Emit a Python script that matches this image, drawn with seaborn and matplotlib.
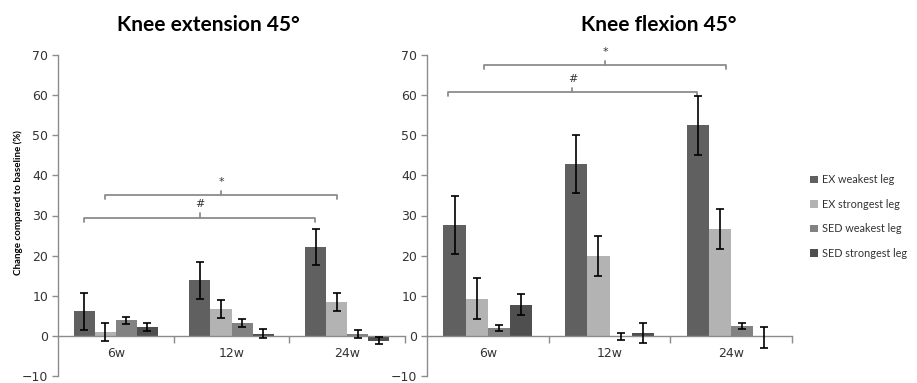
import matplotlib
matplotlib.use("Agg")
import matplotlib.pyplot as plt
from matplotlib.patches import Patch
import numpy as np
import pandas as pd
import seaborn as sns

# ---- data -----------------------------------------------------------------
weeks = ["6w", "12w", "24w"]
groups = ["EX weakest leg", "EX strongest leg", "SED weakest leg", "SED strongest leg"]
colors = ["#606060", "#b3b3b3", "#828282", "#4f4f4f"]

ext_means = {
    "EX weakest leg":    [6.1, 13.9, 22.1],
    "EX strongest leg":  [1.0, 6.7, 8.4],
    "SED weakest leg":   [3.9, 3.2, 0.5],
    "SED strongest leg": [2.2, 0.5, -1.2],
}
ext_err = {
    "EX weakest leg":    [4.6, 4.6, 4.5],
    "EX strongest leg":  [2.2, 2.3, 2.3],
    "SED weakest leg":   [0.9, 1.1, 1.0],
    "SED strongest leg": [1.1, 1.1, 0.9],
}
flex_means = {
    "EX weakest leg":    [27.6, 42.8, 52.5],
    "EX strongest leg":  [9.3, 19.8, 26.6],
    "SED weakest leg":   [1.9, -0.2, 2.4],
    "SED strongest leg": [7.8, 0.7, -0.3],
}
flex_err = {
    "EX weakest leg":    [7.3, 7.3, 7.3],
    "EX strongest leg":  [5.0, 5.0, 5.0],
    "SED weakest leg":   [0.75, 0.8, 0.8],
    "SED strongest leg": [2.6, 2.6, 2.6],
}

# significance brackets: (symbol, y level, x start, x end) in category units
ext_brackets = [("#", 29.5, -0.274, 1.726), ("*", 35.2, -0.091, 1.909)]
flex_brackets = [("#", 60.8, -0.33, 1.72), ("*", 67.6, -0.03, 1.96)]

yticks = [-10, 0, 10, 20, 30, 40, 50, 60, 70]


def to_frame(means, errs):
    rows = []
    for g in groups:
        for w, m, e in zip(weeks, means[g], errs[g]):
            rows.append({"week": w, "group": g, "value": m, "err": e})
    return pd.DataFrame(rows)


sns.set_theme(style="white")
plt.rcParams["font.family"] = ["DejaVu Sans"]

fig = plt.figure(figsize=(9.17, 3.83), dpi=100)
W, H = 917, 383


def axes_px(x0, x1, ytop, ybot):
    return fig.add_axes([x0 / W, 1 - ybot / H, (x1 - x0) / W, (ybot - ytop) / H])


ax_l = axes_px(58, 405, 55, 376)
ax_r = axes_px(427, 792, 55, 376)

axis_grey = "#8c8c8c"


def draw_panel(ax, means, errs, brackets):
    df = to_frame(means, errs)
    sns.barplot(data=df, x="week", y="value", hue="group", order=weeks,
                hue_order=groups, palette=colors, width=0.73, saturation=1,
                errorbar=None, legend=False, ax=ax, linewidth=0)
    # error bars placed on the bar centres
    bars = [p for p in ax.patches]
    k = 0
    for g in groups:
        sub = df[df["group"] == g].set_index("week").loc[weeks]
        for w in weeks:
            p = bars[k]
            xc = p.get_x() + p.get_width() / 2
            ax.errorbar(xc, sub.loc[w, "value"], yerr=sub.loc[w, "err"],
                        fmt="none", ecolor="black", elinewidth=1.2,
                        capsize=3, capthick=1.2, zorder=5)
            k += 1

    ax.set_ylim(-10, 70)
    ax.set_xlim(-0.5, 2.5)
    ax.set_yticks(yticks)
    ax.set_xlabel("")
    ax.set_ylabel("")

    for s in ["top", "right"]:
        ax.spines[s].set_visible(False)
    ax.spines["left"].set_color(axis_grey)
    ax.spines["bottom"].set_color(axis_grey)
    ax.spines["left"].set_linewidth(1.0)
    ax.spines["bottom"].set_linewidth(1.0)
    ax.spines["bottom"].set_position(("data", 0))

    ax.tick_params(axis="y", which="major", direction="out", length=4,
                   width=1, color=axis_grey, labelsize=9, labelcolor="#333333",
                   left=True, pad=3)
    ax.tick_params(axis="x", which="major", length=0, labelsize=9,
                   labelcolor="#333333", pad=8)
    ax.set_xticks([0.5, 1.5, 2.5], minor=True)
    ax.tick_params(axis="x", which="minor", direction="out", length=5,
                   width=1, color=axis_grey, bottom=True)

    for sym, y, x1, x2 in brackets:
        xm = (x1 + x2) / 2
        ax.plot([x1, x1, x2, x2], [y - 1.0, y, y, y - 1.0], color=axis_grey,
                lw=1.3, solid_joinstyle="round", zorder=4, clip_on=False)
        ax.plot([xm, xm], [y, y + 1.0], color=axis_grey, lw=1.3, zorder=4,
                clip_on=False)
        ax.text(xm, y + 2.0, sym, ha="center", va="bottom", fontsize=8,
                color="#333333", clip_on=False)


draw_panel(ax_l, ext_means, ext_err, ext_brackets)
draw_panel(ax_r, flex_means, flex_err, flex_brackets)

title_kw = dict(fontsize=15, fontweight="bold", family=["Lato", "DejaVu Sans"],
                ha="center", va="center", color="black")
fig.text(208 / W, 1 - 25 / H, "Knee extension 45°", **title_kw)
fig.text(659 / W, 1 - 25 / H, "Knee flexion 45°", **title_kw)

fig.text(18 / W, 1 - 203 / H, "Change compared to baseline (%)", rotation=90,
         ha="center", va="center", fontsize=7, fontweight="bold",
         family=["Lato", "DejaVu Sans"], color="black")

handles = [Patch(facecolor=c, edgecolor="none") for c in colors]
fig.legend(handles, groups, loc="upper left", bbox_to_anchor=(806 / W, 1 - 170 / H),
           frameon=False, handlelength=0.7, handleheight=0.7, handletextpad=0.35,
           labelspacing=1.25, prop={"family": ["Lato", "DejaVu Sans"], "size": 7.8},
           labelcolor="#333333", borderaxespad=0)

fig.savefig("out.png", dpi=100)
